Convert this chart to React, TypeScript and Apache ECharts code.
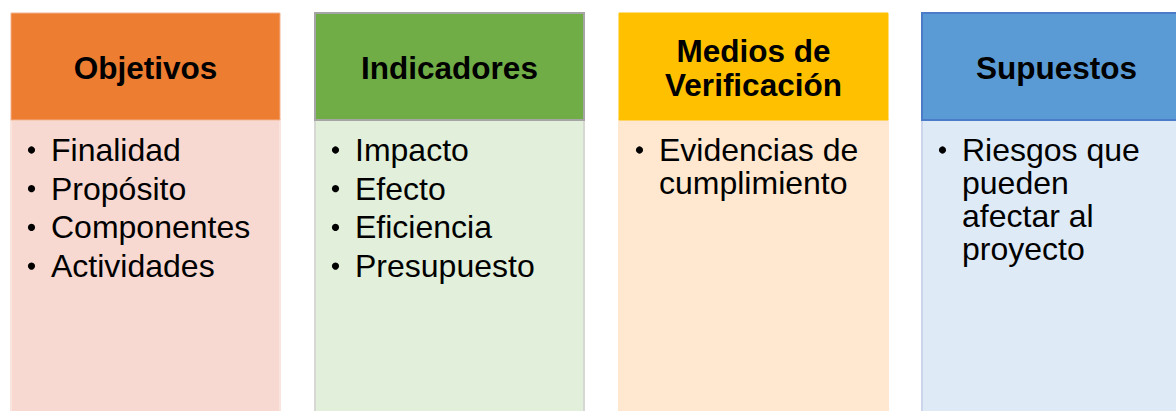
import React, { useEffect, useRef } from "react";
import * as echarts from "echarts";

const headers = ["Objetivos", "Indicadores", "Medios de\nVerificación", "Supuestos"];
const items = [
  ["Finalidad", "Propósito", "Componentes", "Actividades"],
  ["Impacto", "Efecto", "Eficiencia", "Presupuesto"],
  ["Evidencias de\ncumplimiento"],
  ["Riesgos que\npueden\nafectar al\nproyecto"],
];
const headerColors = ["#ED7D31", "#70AD47", "#FFC000", "#5B9BD5"];
const headerBorders = ["#F3B28E", "#A5A5A5", "#FFC000", "#4A7CC9"];
const bodyColors = ["#F7D9D1", "#E2EFDA", "#FFE8CF", "#DEEAF6"];
const bodyBorders = ["#F9E4DE", "#D6D9D3", "#FFE8CF", "#CBD5EC"];

const colX = [11, 315, 619, 922];
const colW = 269;
const headTop = 13;
const headH = 107;
const bodyBottom = 420;
const FAMILY = "Liberation Sans";

export default function App() {
  const ref = useRef<HTMLDivElement>(null);
  useEffect(() => {
    if (!ref.current) return;
    const chart = echarts.init(ref.current, undefined, { renderer: "svg" });
    const els: any[] = [];
    headers.forEach((h, i) => {
      const x = colX[i];
      els.push({
        type: "rect",
        shape: { x, y: headTop + headH, width: colW, height: bodyBottom - headTop - headH },
        style: { fill: bodyColors[i], stroke: bodyBorders[i], lineWidth: 2 },
      });
      els.push({
        type: "rect",
        shape: { x, y: headTop, width: colW, height: headH },
        style: { fill: headerColors[i], stroke: headerBorders[i], lineWidth: i === 1 || i === 3 ? 2 : 1 },
      });
      els.push({
        type: "text",
        x: x + colW / 2,
        y: headTop + headH / 2 + 1,
        style: {
          text: h,
          fill: "#000",
          fontFamily: FAMILY,
          fontSize: 31.5,
          fontWeight: "bold",
          align: "center",
          verticalAlign: "middle",
          lineHeight: 34,
        },
      });
      let top = 133.5;
      items[i].forEach((it) => {
        const nLines = it.split("\n").length;
        els.push({
          type: "circle",
          shape: { cx: x + 20.5, cy: top + 16.5, r: 3.6 },
          style: { fill: "#000" },
        });
        els.push({
          type: "text",
          x: x + 40,
          y: top,
          style: {
            text: it,
            fill: "#000",
            fontFamily: FAMILY,
            fontSize: 32,
            align: "left",
            verticalAlign: "top",
            lineHeight: 33,
          },
        });
        top += 38.7 + (nLines - 1) * 33;
      });
    });
    chart.setOption({ animation: false, graphic: { elements: els } });
    return () => chart.dispose();
  }, []);
  return (
    <div
      ref={ref}
      style={{ position: "fixed", left: 0, top: 0, width: 1176, height: 411, background: "#fff" }}
    />
  );
}
